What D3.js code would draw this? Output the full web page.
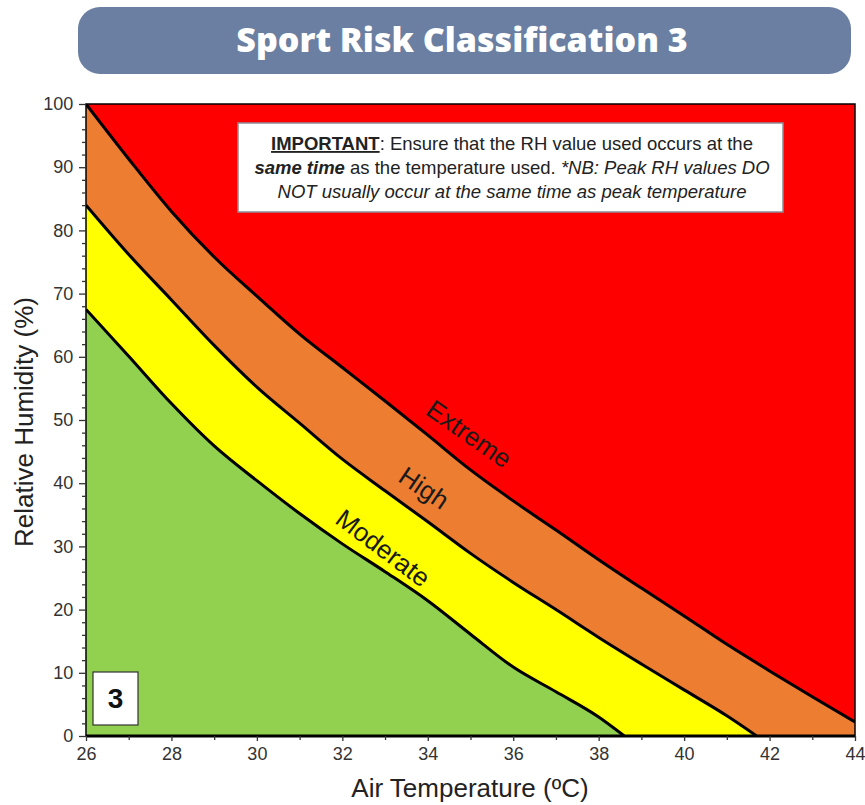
<!DOCTYPE html>
<html><head><meta charset="utf-8">
<script src="https://cdn.jsdelivr.net/npm/d3@7"></script>
<style>
body{margin:0;background:#fff;}
svg{display:block;font-family:"Liberation Sans",Arial,sans-serif;}
</style></head>
<body><svg id="c" width="865" height="805"></svg>
<script>
// Data (Air temperature °C → Relative humidity %)
const extremeT  = [26,27,28,29,30,31,32,33,34,35,36,37,38,39,40,41,42,43,44];
const extremeRH = [100,91.3,83,75.8,69.6,63.6,58.3,53,47.6,42.1,37.2,32.6,27.9,23.4,19,14.5,10.3,6.2,2.2];
const highT  = [26,27,28,29,30,31,32,33,34,35,36,37,38,39,40,41,41.7];
const highRH = [84,76.2,69,61.8,55.2,49.5,43.8,38.8,33.9,28.9,24.3,20,15.6,11.4,7.3,3.2,0];
const modT  = [26,27,28,29,30,31,32,33,34,35,36,37,38,38.6];
const modRH = [67.5,60.1,52.6,45.9,40.4,35.2,30.4,26,21.4,16.1,10.9,7,3,0];
const xTicks = [26,28,30,32,34,36,38,40,42,44];
const yTicks = [0,10,20,30,40,50,60,70,80,90,100];
const zoneLabels = ["Extreme","High","Moderate"];

const svg = d3.select("#c");
const L=86, R=855, T=104, B=736;
const x = d3.scaleLinear().domain([26,44]).range([L,R]);
const y = d3.scaleLinear().domain([0,100]).range([B,T]);

// Title banner
svg.append("rect").attr("x",78).attr("y",7).attr("width",773).attr("height",67)
  .attr("rx",22).attr("fill","#6a7fa1");
svg.append("text").attr("x",462).attr("y",52).attr("text-anchor","middle")
  .attr("fill","#fff").attr("font-family","'Open Sans',sans-serif").attr("font-weight",800)
  .attr("font-size",34).text("Sport Risk Classification 3");

svg.append("clipPath").attr("id","pc").append("rect")
  .attr("x",L).attr("y",T).attr("width",R-L).attr("height",B-T);
const g = svg.append("g").attr("clip-path","url(#pc)");

g.append("rect").attr("x",L).attr("y",T).attr("width",R-L).attr("height",B-T).attr("fill","#ff0000");

const mk = (ts,rs)=>ts.map((t,i)=>[t,rs[i]]);
const area = d3.area().x(d=>x(d[0])).y0(B).y1(d=>y(d[1])).curve(d3.curveMonotoneX);
const line = d3.line().x(d=>x(d[0])).y(d=>y(d[1])).curve(d3.curveMonotoneX);
const zones = [
  {d:mk(extremeT,extremeRH), c:"#ed7d31"},
  {d:mk(highT,highRH), c:"#ffff00"},
  {d:mk(modT,modRH), c:"#92d050"}
];
zones.forEach(z=>{
  g.append("path").datum(z.d).attr("d",area).attr("fill",z.c);
});
zones.forEach(z=>{
  g.append("path").datum(z.d).attr("d",line).attr("fill","none")
   .attr("stroke","#000").attr("stroke-width",3);
});

// zone labels
const lab = [
  {t:zoneLabels[0], x:469, y:434, a:35},
  {t:zoneLabels[1], x:424, y:488, a:34},
  {t:zoneLabels[2], x:383, y:548, a:37}
];
lab.forEach(l=>{
  svg.append("text").attr("transform",`translate(${l.x},${l.y}) rotate(${l.a})`)
    .attr("text-anchor","middle").attr("dominant-baseline","central")
    .attr("font-size",26).attr("fill","#1a1a1a").text(l.t);
});

// Note box
svg.append("rect").attr("x",238).attr("y",123).attr("width",545).attr("height",89)
  .attr("fill","#fff").attr("stroke","#8d8d9a").attr("stroke-width",1.5);
const nt = svg.append("g").attr("font-size",18.5).attr("fill","#222").attr("text-anchor","middle");
const l1 = nt.append("text").attr("x",512).attr("y",150);
l1.append("tspan").attr("font-weight","bold").attr("text-decoration","underline").text("IMPORTANT");
l1.append("tspan").text(": Ensure that the RH value used occurs at the");
const l2 = nt.append("text").attr("x",512).attr("y",174);
l2.append("tspan").attr("font-weight","bold").attr("font-style","italic").text("same time");
l2.append("tspan").text(" as the temperature used. ");
l2.append("tspan").attr("font-style","italic").text("*NB: Peak RH values DO");
nt.append("text").attr("x",512).attr("y",198).attr("font-style","italic")
  .text("NOT usually occur at the same time as peak temperature");

// "3" box
svg.append("rect").attr("x",93).attr("y",672).attr("width",45).attr("height",53)
  .attr("fill","#fff").attr("stroke","#333").attr("stroke-width",1.2);
svg.append("text").attr("x",115.5).attr("y",708).attr("text-anchor","middle")
  .attr("font-size",28).attr("font-weight","bold").attr("fill","#111").text("3");

// Frame
svg.append("rect").attr("x",L).attr("y",T).attr("width",R-L).attr("height",B-T)
  .attr("fill","none").attr("stroke","#000").attr("stroke-width",1.5);
svg.append("line").attr("x1",L).attr("x2",R).attr("y1",B).attr("y2",B).attr("stroke","#000").attr("stroke-width",3);

// Axes
const tickFont = "'Liberation Sans Narrow','Arial Narrow','Liberation Sans',Arial,sans-serif";
const xAx = svg.append("g").attr("transform",`translate(0,${B})`)
  .call(d3.axisBottom(x).tickValues(xTicks).tickSize(5).tickFormat(d3.format("d")));
const xMin = svg.append("g").attr("transform",`translate(0,${B})`)
  .call(d3.axisBottom(x).tickValues(d3.range(27,44,2)).tickSize(4).tickFormat(""));
const yAx = svg.append("g").attr("transform",`translate(${L},0)`)
  .call(d3.axisLeft(y).tickValues(yTicks).tickSize(7).tickFormat(d3.format("d")));
const yMin = svg.append("g").attr("transform",`translate(${L},0)`)
  .call(d3.axisLeft(y).tickValues(d3.range(0,101,2).filter(v=>v%10)).tickSize(4).tickFormat(""));
[xAx,xMin,yAx,yMin].forEach(a=>{
  a.select(".domain").remove();
  a.selectAll("line").attr("stroke","#333").attr("stroke-width",1.3);
  a.selectAll("text").attr("font-size",18).attr("fill","#333").attr("font-family",tickFont);
});
xAx.selectAll("text").attr("dy","0.9em");
yAx.selectAll("text").attr("dx","-0.15em");

svg.append("text").attr("x",470).attr("y",797).attr("text-anchor","middle")
  .attr("font-size",26).attr("fill","#222").text("Air Temperature (ºC)");
svg.append("text").attr("transform","translate(33,422) rotate(-90)").attr("text-anchor","middle")
  .attr("font-size",26).attr("fill","#222").text("Relative Humidity (%)");
</script></body></html>
